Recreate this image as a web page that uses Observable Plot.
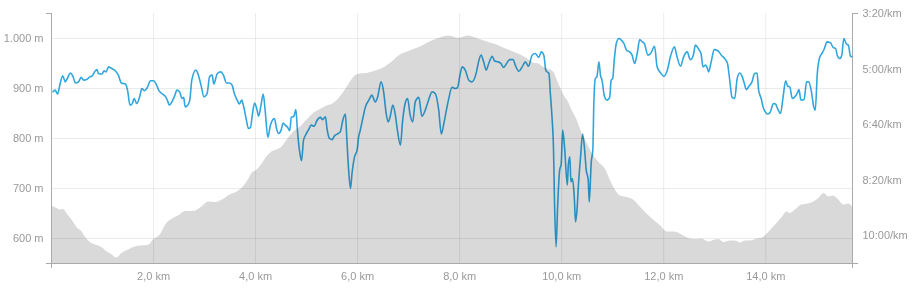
<!DOCTYPE html>
<html>
<head>
<meta charset="utf-8">
<script src="https://cdn.jsdelivr.net/npm/d3@7"></script>
<script src="https://cdn.jsdelivr.net/npm/@observablehq/plot@0.6"></script>
<style>
  html, body { margin: 0; padding: 0; background: #fff; }
  #chart svg { display: block; }
</style>
</head>
<body>
<div id="chart"></div>
<script>
// Elevation profile (km, metres)
const elevKm = [0,0.11,0.17,0.24,0.30,0.40,0.50,0.60,0.66,0.75,0.86,0.99,1.09,1.18,1.28,1.38,1.51,1.64,1.77,1.90,2.00,2.13,2.26,2.39,2.52,2.62,2.78,2.95,3.08,3.21,3.37,3.50,3.64,3.76,3.86,3.93,4.03,4.13,4.22,4.32,4.42,4.52,4.62,4.75,4.88,5.01,5.14,5.27,5.40,5.53,5.66,5.76,5.86,5.95,6.05,6.18,6.35,6.45,6.64,6.84,7.03,7.23,7.42,7.62,7.78,7.88,7.98,8.08,8.18,8.34,8.54,8.73,8.93,9.13,9.32,9.48,9.52,9.65,9.75,9.84,9.94,10.04,10.14,10.20,10.30,10.40,10.50,10.60,10.69,10.76,10.86,10.95,11.05,11.15,11.28,11.41,11.54,11.67,11.80,11.94,12.07,12.16,12.26,12.39,12.52,12.62,12.75,12.88,13.01,13.08,13.18,13.31,13.41,13.50,13.60,13.70,13.83,13.93,14.03,14.13,14.22,14.32,14.42,14.48,14.58,14.71,14.84,14.94,15.04,15.14,15.24,15.33,15.43,15.53,15.63,15.70];
const elevM = [665,660,657,658,650,637,622,613,603,593,587,582,573,568,561,570,577,583,585,586,597,607,630,640,647,654,654,663,673,672,678,687,693,703,717,730,737,749,763,773,777,783,797,813,823,837,850,858,865,870,883,897,913,925,929,930,935,938,950,967,975,983,993,1001,1005,1003,1000,1003,1005,1000,993,987,978,970,960,950,950,942,938,933,910,887,871,857,837,810,790,770,757,749,738,717,697,685,682,677,663,649,637,625,613,613,612,605,599,598,599,593,597,598,592,595,595,591,595,595,599,601,609,620,630,642,653,650,657,667,669,673,680,690,683,685,677,667,669,663,662];

// Pace (km, seconds per km)
const paceKm = [0.03,0.07,0.12,0.17,0.22,0.27,0.31,0.37,0.42,0.47,0.53,0.58,0.63,0.69,0.75,0.79,0.86,0.89,0.92,0.99,1.03,1.07,1.12,1.18,1.25,1.31,1.37,1.45,1.49,1.54,1.58,1.62,1.67,1.73,1.77,1.82,1.88,1.94,2.00,2.05,2.10,2.16,2.23,2.27,2.31,2.36,2.41,2.46,2.51,2.56,2.59,2.62,2.67,2.71,2.75,2.83,2.88,2.93,2.99,3.05,3.10,3.15,3.18,3.25,3.32,3.37,3.43,3.49,3.54,3.58,3.64,3.68,3.73,3.76,3.82,3.86,3.90,3.94,3.98,4.03,4.06,4.11,4.15,4.19,4.24,4.29,4.34,4.37,4.41,4.45,4.50,4.54,4.58,4.63,4.67,4.70,4.75,4.79,4.82,4.86,4.90,4.94,4.99,5.04,5.09,5.15,5.20,5.27,5.31,5.37,5.40,5.45,5.50,5.54,5.60,5.66,5.71,5.76,5.79,5.82,5.86,5.89,5.94,5.99,6.02,6.05,6.11,6.15,6.22,6.28,6.33,6.35,6.39,6.46,6.51,6.56,6.60,6.64,6.69,6.74,6.78,6.84,6.88,6.94,6.98,7.03,7.08,7.13,7.20,7.26,7.33,7.39,7.46,7.52,7.59,7.64,7.69,7.74,7.78,7.85,7.92,7.96,8.00,8.05,8.11,8.18,8.24,8.33,8.37,8.42,8.47,8.52,8.57,8.64,8.68,8.75,8.81,8.86,8.92,8.98,9.05,9.09,9.16,9.22,9.29,9.35,9.42,9.48,9.55,9.60,9.65,9.69,9.75,9.78,9.81,9.84,9.86,9.89,9.92,9.96,9.99,10.02,10.06,10.11,10.13,10.16,10.18,10.21,10.24,10.25,10.27,10.30,10.33,10.37,10.41,10.45,10.48,10.52,10.54,10.58,10.61,10.63,10.66,10.69,10.73,10.76,10.79,10.84,10.89,10.94,10.97,11.00,11.03,11.07,11.12,11.18,11.22,11.27,11.33,11.38,11.43,11.48,11.53,11.58,11.62,11.69,11.75,11.82,11.87,11.94,12.00,12.07,12.13,12.21,12.26,12.33,12.39,12.46,12.52,12.58,12.62,12.69,12.73,12.77,12.82,12.85,12.88,12.93,12.99,13.06,13.13,13.21,13.25,13.29,13.34,13.39,13.44,13.49,13.54,13.58,13.62,13.67,13.73,13.78,13.83,13.86,13.91,13.95,13.99,14.04,14.09,14.15,14.19,14.24,14.29,14.34,14.39,14.43,14.47,14.52,14.56,14.62,14.65,14.69,14.75,14.80,14.84,14.89,14.94,14.97,15.01,15.06,15.10,15.15,15.20,15.27,15.32,15.37,15.40,15.45,15.49,15.53,15.58,15.62,15.66,15.70];
const paceSec = [341,338,345,326,312,323,317,307,313,325,323,315,320,319,314,313,303,301,308,309,303,305,296,299,303,311,325,327,338,365,363,353,362,349,335,339,333,321,321,327,338,344,349,356,365,359,349,338,341,353,351,368,365,356,320,302,311,329,350,344,313,311,327,308,305,311,325,325,329,343,356,363,356,365,392,407,405,380,361,374,385,363,345,377,423,401,391,389,407,416,410,397,401,405,411,387,385,373,410,446,465,428,417,409,401,403,393,387,391,386,407,425,427,421,417,413,392,381,428,476,515,488,458,446,422,411,385,369,356,347,357,359,351,323,341,380,395,385,365,383,410,437,395,359,353,383,395,359,351,385,373,356,341,344,374,417,398,374,356,333,335,333,314,296,302,320,323,305,287,275,287,302,290,277,285,287,290,297,290,283,283,293,304,297,287,295,275,272,279,269,275,303,308,347,386,446,542,620,548,482,471,410,446,509,473,458,503,497,521,536,575,554,506,458,417,446,481,500,539,467,446,362,317,314,287,311,320,350,356,351,320,317,284,254,245,249,254,266,269,275,290,272,247,251,254,275,271,259,296,307,313,302,278,260,278,295,278,269,283,275,257,265,272,296,293,297,305,287,265,267,275,283,290,317,351,353,317,307,314,326,337,331,323,308,307,338,353,369,377,381,377,362,363,373,380,350,321,331,332,353,351,343,337,356,355,323,323,338,368,374,308,278,272,263,251,253,261,263,275,281,275,245,255,257,277,278];

// Tick values
const kmTicks = [2, 4, 6, 8, 10, 12, 14];
const elevTicks = [600, 700, 800, 900, 1000];
const paceTicks = [200, 300, 400, 500, 600];

const xMax = 15.7;
const yMin = 550, yMax = 1050;
const paceTop = 200, paceBottom = 650;
// pace (s/km) mapped onto the elevation axis range (faster = higher)
const paceToY = d3.scaleLinear().domain([paceTop, paceBottom]).range([yMax, yMin]);

const elevData = elevKm.map((k, i) => ({km: k, elev: elevM[i]}));
const paceData = paceKm.map((k, i) => ({km: k, pace: paceSec[i]}));

const fmtElev = d => d3.format(",")(d).replace(/,/g, ".") + " m";
const fmtKm = d => d3.format(".1f")(d).replace(".", ",") + " km";
const fmtPace = s => `${Math.floor(s / 60)}:${String(Math.round(s % 60)).padStart(2, "0")}/km`;
const yToPace = new Map(paceTicks.map(p => [paceToY(p), p]));

const axisColor = "#aaaaaa";
const labelColor = "#999999";

const chart = Plot.plot({
  width: 913,
  height: 289,
  marginLeft: 51,
  marginRight: 61,
  marginTop: 13,
  marginBottom: 26,
  style: {fontFamily: "'Liberation Sans', Arial, Helvetica, sans-serif", fontSize: "11px", background: "#fff", overflow: "visible"},
  x: {domain: [0, xMax]},
  y: {domain: [yMin, yMax]},
  marks: [
    Plot.areaY(elevData, {x: "km", y1: () => yMin, y2: "elev", fill: "#d9d9d9", curve: "monotone-x"}),
    Plot.gridY(elevTicks, {stroke: "#000", strokeOpacity: 0.08}),
    Plot.gridX(kmTicks, {stroke: "#000", strokeOpacity: 0.08}),
    Plot.line(paceData, {x: "km", y: d => paceToY(d.pace), stroke: "#31a7df", strokeWidth: 1.6, curve: "monotone-x", mixBlendMode: "multiply"}),
    // axis lines
    Plot.ruleX([0, xMax], {stroke: axisColor}),
    Plot.ruleY([yMin], {stroke: axisColor}),
    // end caps
    Plot.axisY([yMin, yMax], {anchor: "left", tickSize: 5, tickFormat: () => "", stroke: axisColor, label: null}),
    Plot.axisY([yMin, yMax], {anchor: "right", tickSize: 5, tickFormat: () => "", stroke: axisColor, label: null}),
    Plot.axisX([0, xMax], {anchor: "bottom", tickSize: 5, tickFormat: () => "", stroke: axisColor, label: null}),
    // labels
    Plot.axisY(elevTicks, {anchor: "left", tickSize: 0, tickPadding: 8, tickFormat: fmtElev, fill: labelColor, label: null}),
    Plot.axisY(paceTicks.map(p => paceToY(p)), {anchor: "right", tickSize: 0, tickPadding: 10, tickFormat: y => fmtPace(yToPace.get(y)), fill: labelColor, label: null}),
    Plot.axisX(kmTicks, {anchor: "bottom", tickSize: 0, tickPadding: 9, tickFormat: fmtKm, fill: labelColor, label: null})
  ]
});
document.getElementById("chart").appendChild(chart);
</script>
</body>
</html>
